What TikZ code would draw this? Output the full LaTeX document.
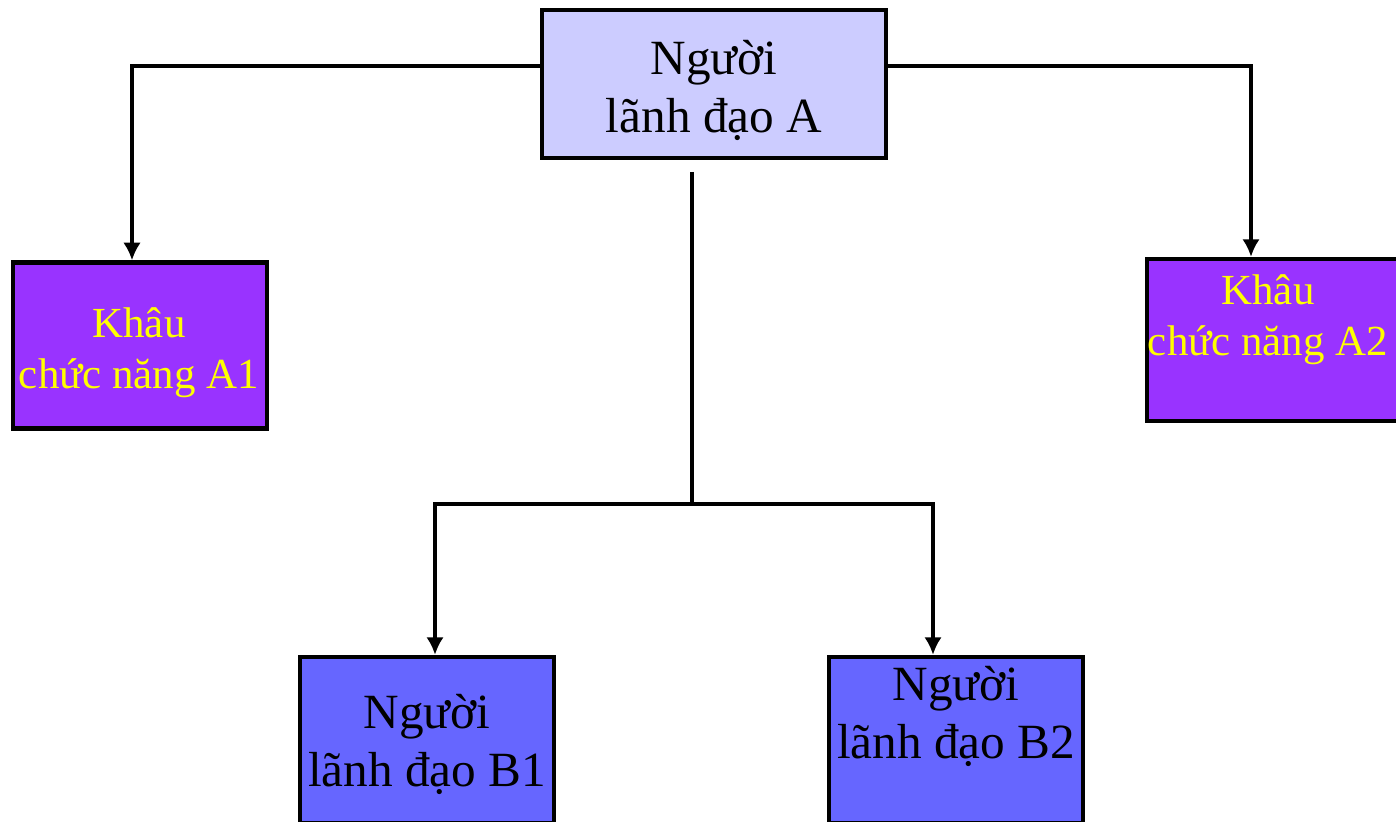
\documentclass[tikz,border=0pt]{standalone}
\usepackage{fontspec}
\setmainfont{Liberation Serif}
\usepackage{xcolor}
\usetikzlibrary{arrows.meta}
\definecolor{lavender}{HTML}{CCCCFF}
\definecolor{violett}{HTML}{9933FF}
\definecolor{blau}{HTML}{6666FF}
\definecolor{gelb}{HTML}{FFFF00}
\tikzset{
  Kasten/.style={draw=black,line width=1.2pt,rectangle,inner sep=0pt,
    minimum width=2.54cm,minimum height=1.66cm}, % Grundform
  Leiter/.style={Kasten,fill=#1,text=black},% Leitungsebene
  Stelle/.style={Kasten,fill=violett,text=gelb},% Funktionsstellen
  Text/.style={align=center,font=\fontsize{14}{16.5}\selectfont,text=black},
  GText/.style={align=center,font=\fontsize{12.2}{14.5}\selectfont,text=gelb},
  Linie/.style={line width=1.15pt},
  Pfeil/.style={Linie,-{Latex[length=5pt,width=5pt]}}
}

\begin{document}
\begin{tikzpicture}[x=0.01cm,y=-0.01cm]
\useasboundingbox (0,0) rectangle (1396,822);

%Kaesten
\node[Leiter=lavender,minimum width=3.44cm,minimum height=1.48cm] (A) at (714,84) {};
\node[Stelle] (A1) at (140,345.5) {};
\node[Stelle,minimum height=1.62cm] (A2) at (1274,340) {};
\node[Leiter=blau,minimum height=1.66cm] (B1) at (427,740) {};
\node[Leiter=blau,minimum height=1.66cm] (B2) at (956,740) {};

%Beschriftung
\node[Text] (tA) at (714,90) {Người\\lãnh đạo A};
\node[GText] (tA1) at (139,353) {Khâu\\chức năng A1};
\node[GText] (tA2) at (1268,320) {Khâu\\chức năng A2};
\node[Text] (tB1) at (427,744) {Người\\lãnh đạo B1};
\node[Text] (tB2) at (956,716) {Người\\lãnh đạo B2};

%Hilfspunkte
\coordinate (stamm) at (692,172);
\coordinate (knoten) at (692,504);
\coordinate (links) at (132,66);
\coordinate (rechts) at (1251,66);
\coordinate (ab1) at (435,504);
\coordinate (ab2) at (933,504);

%Verbindungen
\draw[Pfeil] (A.west |- links) -- (links) -- (links |- A1.north);
\draw[Pfeil] (A.east |- rechts) -- (rechts) -- (rechts |- A2.north);
\draw[Linie] (stamm) -- (knoten);
\draw[Pfeil] (knoten) -- (ab1) -- (ab1 |- B1.north);
\draw[Pfeil] (knoten) -- (ab2) -- (ab2 |- B2.north);

\end{tikzpicture}
\end{document}
